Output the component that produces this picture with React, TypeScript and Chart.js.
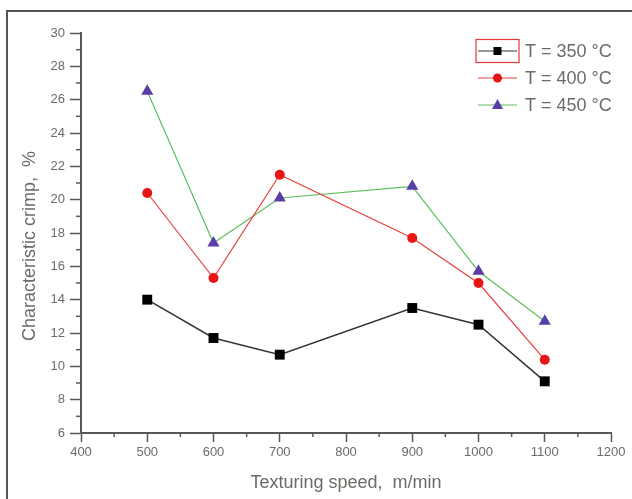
import { useEffect, useRef } from "react";
import { Chart, registerables } from "chart.js";

Chart.register(...registerables);

const speeds = [500, 600, 700, 900, 1000, 1100];
const crimp350 = [14.0, 11.7, 10.7, 13.5, 12.5, 9.1];
const crimp400 = [20.4, 15.3, 21.5, 17.7, 15.0, 10.4];
const crimp450 = [26.5, 17.4, 20.1, 20.8, 15.7, 12.7];
const seriesLabels = ["T = 350 °C", "T = 400 °C", "T = 450 °C"];
const xTitle = "Texturing speed,  m/min";
const yTitle = "Characteristic crimp,  %";
const xMinorTicks = [450, 550, 650, 750, 850, 950, 1050, 1150];
const yMinorTicks = [7, 9, 11, 13, 15, 17, 19, 21, 23, 25, 27, 29];

const FONT = "'Liberation Sans', Arial, sans-serif";
const AXIS = "#5b5753";
const TEXT = "#6e6a66";

const lineColors = ["#333333", "#e8403c", "#5cc05c"];
const markColors = ["#000000", "#e81515", "#5a3ea8"];
const markStyles = ["rect", "circle", "triangle"];
const markRadius = [7, 5, 7];

const extrasPlugin = {
  id: "extras",
  afterDraw(chart: any) {
    const ctx = chart.ctx;
    const xs = chart.scales.x;
    const ys = chart.scales.y;
    const area = chart.chartArea;
    ctx.save();
    // minor ticks
    ctx.strokeStyle = AXIS;
    ctx.lineWidth = 1.5;
    xMinorTicks.forEach((v) => {
      const px = xs.getPixelForValue(v);
      ctx.beginPath();
      ctx.moveTo(px, area.bottom);
      ctx.lineTo(px, area.bottom + 4);
      ctx.stroke();
    });
    yMinorTicks.forEach((v) => {
      const py = ys.getPixelForValue(v);
      ctx.beginPath();
      ctx.moveTo(area.left - 5, py);
      ctx.lineTo(area.left, py);
      ctx.stroke();
    });
    // y title
    ctx.save();
    ctx.translate(30, 246);
    ctx.rotate(-Math.PI / 2);
    ctx.font = `18px ${FONT}`;
    ctx.fillStyle = TEXT;
    ctx.textAlign = "center";
    ctx.textBaseline = "middle";
    ctx.fillText(yTitle, 0, 0);
    ctx.restore();
    // legend
    const rowY = [51, 78, 105];
    const x0 = 476;
    const x1 = 519;
    const xm = (x0 + x1) / 2;
    chart.data.datasets.forEach((ds: any, i: number) => {
      const y = rowY[i];
      ctx.strokeStyle = ds.borderColor;
      ctx.lineWidth = 1.2;
      ctx.beginPath();
      ctx.moveTo(x0 + 2, y);
      ctx.lineTo(x1 - 2, y);
      ctx.stroke();
      ctx.fillStyle = ds.pointBackgroundColor;
      ctx.beginPath();
      if (i === 0) {
        ctx.fillRect(xm - 4, y - 4, 8, 8);
      } else if (i === 1) {
        ctx.arc(xm, y, 4.5, 0, Math.PI * 2);
        ctx.fill();
      } else {
        ctx.moveTo(xm, y - 6);
        ctx.lineTo(xm + 5.5, y + 4);
        ctx.lineTo(xm - 5.5, y + 4);
        ctx.closePath();
        ctx.fill();
      }
      ctx.font = `18px ${FONT}`;
      ctx.fillStyle = TEXT;
      ctx.textAlign = "left";
      ctx.textBaseline = "middle";
      ctx.fillText(ds.label, 525, y + 1);
    });
    ctx.strokeStyle = "#e03a3a";
    ctx.lineWidth = 1.2;
    ctx.strokeRect(x0, 39.5, x1 - x0, 23);
    ctx.restore();
  },
};

export default function App() {
  const ref = useRef<HTMLCanvasElement>(null);

  useEffect(() => {
    if (!ref.current) return;
    const series = [crimp350, crimp400, crimp450];
    const chart = new Chart(ref.current, {
      type: "line",
      data: {
        datasets: series.map((vals, i) => ({
          label: seriesLabels[i],
          data: speeds.map((s, j) => ({ x: s, y: vals[j] })),
          borderColor: lineColors[i],
          borderWidth: i === 0 ? 1.5 : 1.2,
          pointStyle: markStyles[i] as any,
          pointRadius: markRadius[i],
          pointBackgroundColor: markColors[i],
          pointBorderColor: markColors[i],
          pointBorderWidth: 0,
          tension: 0,
          fill: false,
        })),
      },
      options: {
        responsive: false,
        animation: false,
        events: [],
        layout: { padding: { left: 0, right: 21, top: 33, bottom: 0 } },
        plugins: {
          legend: { display: false },
          tooltip: { enabled: false },
        },
        scales: {
          x: {
            type: "linear",
            min: 400,
            max: 1200,
            afterFit: (s: any) => {
              s.height = 66;
            },
            ticks: {
              stepSize: 100,
              padding: 3,
              color: TEXT,
              font: { family: FONT, size: 13 },
              maxRotation: 0,
              callback: (v: any) => String(v),
            },
            grid: {
              display: true,
              drawOnChartArea: false,
              drawTicks: true,
              tickLength: 9,
              tickColor: AXIS,
              tickWidth: 1.5,
            },
            border: { display: true, color: AXIS, width: 2 },
            title: {
              display: true,
              text: xTitle,
              color: TEXT,
              font: { family: FONT, size: 18 },
              padding: { top: 0, bottom: 5 },
            },
          },
          y: {
            type: "linear",
            min: 6,
            max: 30,
            afterFit: (s: any) => {
              s.width = 81;
            },
            ticks: {
              stepSize: 2,
              padding: 5,
              color: TEXT,
              font: { family: FONT, size: 13 },
              callback: (v: any) => String(v),
            },
            grid: {
              display: true,
              drawOnChartArea: false,
              drawTicks: true,
              tickLength: 11,
              tickColor: AXIS,
              tickWidth: 1.5,
            },
            border: { display: true, color: AXIS, width: 2 },
          },
        },
      },
      plugins: [extrasPlugin],
    });
    return () => chart.destroy();
  }, []);

  return (
    <div
      style={{
        position: "fixed",
        left: 0,
        top: 0,
        width: 632,
        height: 499,
        overflow: "hidden",
        background: "#ffffff",
      }}
    >
      <canvas ref={ref} width={632} height={499} style={{ position: "absolute", left: 0, top: 0 }} />
      <div
        style={{
          position: "absolute",
          left: 6,
          top: 10,
          width: 700,
          height: 600,
          borderLeft: "2px solid #555",
          borderTop: "2px solid #555",
          pointerEvents: "none",
        }}
      />
    </div>
  );
}
